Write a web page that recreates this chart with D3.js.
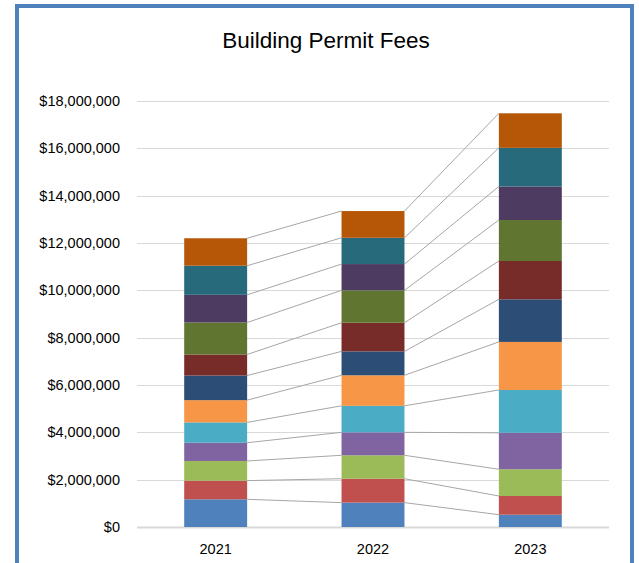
<!DOCTYPE html>
<html>
<head>
<meta charset="utf-8">
<script src="https://cdn.jsdelivr.net/npm/d3@7"></script>
<style>
  body { margin: 0; background: #fff; }
  svg { display: block; }
</style>
</head>
<body>
<svg id="chart" width="639" height="563"></svg>
<script>
const years = ["2021", "2022", "2023"];
const seriesNames = ["S1", "S2", "S3", "S4", "S5", "S6", "S7", "S8", "S9", "S10", "S11", "S12"];
// values per series, in order of years (dollars)
const s1 = [1170000, 1030000, 520000];
const s2 = [790000, 1010000, 790000];
const s3 = [830000, 990000, 1130000];
const s4 = [770000, 970000, 1540000];
const s5 = [860000, 1120000, 1810000];
const s6 = [940000, 1290000, 2030000];
const s7 = [1040000, 1010000, 1800000];
const s8 = [890000, 1210000, 1620000];
const s9 = [1350000, 1370000, 1730000];
const s10 = [1170000, 1110000, 1420000];
const s11 = [1230000, 1110000, 1630000];
const s12 = [1160000, 1130000, 1460000];
const yTicks = [0, 2000000, 4000000, 6000000, 8000000, 10000000, 12000000, 14000000, 16000000, 18000000];
const colors = ["#4f81bd", "#c0504d", "#9bbb59", "#8064a2", "#4bacc6", "#f79646",
                "#2c4d75", "#772c2a", "#5f7530", "#4d3b62", "#276a7c", "#b65708"];

const allSeries = [s1, s2, s3, s4, s5, s6, s7, s8, s9, s10, s11, s12];
const rows = years.map((y, i) => {
  const r = { year: y };
  seriesNames.forEach((n, k) => r[n] = allSeries[k][i]);
  return r;
});

const svg = d3.select("#chart");
const font = "'Liberation Sans', Arial, sans-serif";

// outer frame
svg.append("rect")
  .attr("x", 17).attr("y", 6)
  .attr("width", 615).attr("height", 570)
  .attr("fill", "none")
  .attr("stroke", "#4f81bd")
  .attr("stroke-width", 4);

svg.append("text")
  .attr("x", 326).attr("y", 48)
  .attr("text-anchor", "middle")
  .attr("font-family", font)
  .attr("font-size", "22.5px")
  .attr("fill", "#000")
  .text("Building Permit Fees");

const margin = { left: 137, right: 609, top: 101, bottom: 527 };

const x = d3.scaleBand()
  .domain(years)
  .range([margin.left, margin.right])
  .paddingInner(0.6)
  .paddingOuter(0.3);

const y = d3.scaleLinear()
  .domain([0, 18000000])
  .range([margin.bottom, margin.top]);

// gridlines
svg.append("g")
  .selectAll("line")
  .data(yTicks)
  .join("line")
  .attr("x1", margin.left)
  .attr("x2", margin.right)
  .attr("y1", d => Math.round(y(d)) + 0.5)
  .attr("y2", d => Math.round(y(d)) + 0.5)
  .attr("stroke", "#d9d9d9")
  .attr("stroke-width", d => d === 0 ? 2 : 1);

// y labels
const fmt = d3.format("$,.0f");
svg.append("g")
  .selectAll("text")
  .data(yTicks)
  .join("text")
  .attr("x", 120)
  .attr("y", d => y(d) + 5)
  .attr("text-anchor", "end")
  .attr("font-family", font)
  .attr("font-size", "14.5px")
  .attr("fill", "#000")
  .text(d => fmt(d));

// x labels
svg.append("g")
  .selectAll("text")
  .data(years)
  .join("text")
  .attr("x", d => x(d) + x.bandwidth() / 2)
  .attr("y", 554)
  .attr("text-anchor", "middle")
  .attr("font-family", font)
  .attr("font-size", "14.5px")
  .attr("fill", "#000")
  .text(d => d);

const stacked = d3.stack().keys(seriesNames)(rows);

// series lines between bars
const lineG = svg.append("g");
stacked.forEach(layer => {
  for (let i = 0; i < layer.length - 1; i++) {
    const a = layer[i], b = layer[i + 1];
    lineG.append("line")
      .attr("x1", x(years[i]) + x.bandwidth())
      .attr("y1", y(a[1]))
      .attr("x2", x(years[i + 1]))
      .attr("y2", y(b[1]))
      .attr("stroke", "#a6a6a6")
      .attr("stroke-width", 1);
  }
});

// bars
svg.append("g")
  .selectAll("g")
  .data(stacked)
  .join("g")
  .attr("fill", (d, i) => colors[i])
  .selectAll("rect")
  .data(d => d)
  .join("rect")
  .attr("x", d => x(d.data.year))
  .attr("y", d => y(d[1]))
  .attr("width", x.bandwidth())
  .attr("height", d => y(d[0]) - y(d[1]));
</script>
</body>
</html>
